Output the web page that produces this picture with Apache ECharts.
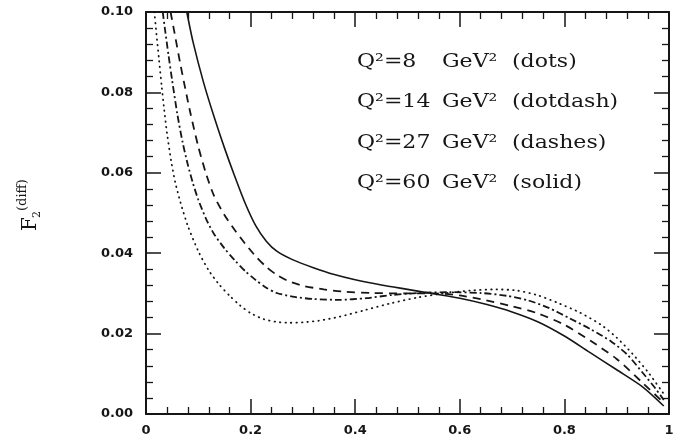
<!DOCTYPE html>
<html>
<head>
<meta charset="utf-8">
<script src="https://cdn.jsdelivr.net/npm/echarts@6/dist/echarts.min.js"></script>
<style>
  html, body { margin: 0; padding: 0; background: #ffffff; }
  #chart { width: 681px; height: 447px; }
</style>
</head>
<body>
<div id="chart"></div>
<script>
// Diffractive structure function F2 versus x for four Q^2 values
const xTickLabels = ['0', '0.2', '0.4', '0.6', '0.8', '1'];
const yTickLabels = ['0.00', '0.02', '0.04', '0.06', '0.08', '0.10'];

// Q^2 = 8 GeV^2 (dots)
const xQ8 = [0.016, 0.020, 0.025, 0.030, 0.035, 0.040, 0.048, 0.056, 0.066, 0.08, 0.10, 0.12, 0.14, 0.16, 0.18, 0.20, 0.225, 0.25, 0.275, 0.30, 0.33, 0.37, 0.42, 0.47, 0.52, 0.57, 0.62, 0.67, 0.71, 0.75, 0.79, 0.83, 0.87, 0.90, 0.93, 0.96, 0.99];
const yQ8 = [0.100, 0.0945, 0.0880, 0.0815, 0.0755, 0.0700, 0.0630, 0.0576, 0.0526, 0.0468, 0.0405, 0.0357, 0.0322, 0.0294, 0.0270, 0.0251, 0.0236, 0.0229, 0.0227, 0.0228, 0.0232, 0.0242, 0.0259, 0.0276, 0.0290, 0.0300, 0.0307, 0.0310, 0.0307, 0.0295, 0.0275, 0.0252, 0.0222, 0.0190, 0.0150, 0.0104, 0.0050];

// Q^2 = 14 GeV^2 (dotdash)
const xQ14 = [0.032, 0.037, 0.043, 0.05, 0.06, 0.07, 0.08, 0.09, 0.10, 0.115, 0.13, 0.15, 0.17, 0.19, 0.21, 0.23, 0.25, 0.28, 0.32, 0.37, 0.42, 0.47, 0.52, 0.58, 0.64, 0.69, 0.73, 0.77, 0.81, 0.85, 0.89, 0.92, 0.95, 0.975, 0.99];
const yQ14 = [0.100, 0.0950, 0.0893, 0.0830, 0.0745, 0.0676, 0.0620, 0.0573, 0.0533, 0.0485, 0.0448, 0.0412, 0.0382, 0.0355, 0.0333, 0.0314, 0.0301, 0.0292, 0.0286, 0.0284, 0.0288, 0.0296, 0.0301, 0.0303, 0.0301, 0.0294, 0.0283, 0.0264, 0.0238, 0.0211, 0.0180, 0.0148, 0.0102, 0.0062, 0.0035];

// Q^2 = 27 GeV^2 (dashes)
const xQ27 = [0.047, 0.055, 0.065, 0.075, 0.085, 0.10, 0.115, 0.13, 0.15, 0.17, 0.19, 0.21, 0.23, 0.25, 0.27, 0.30, 0.34, 0.38, 0.43, 0.50, 0.55, 0.60, 0.65, 0.70, 0.75, 0.80, 0.85, 0.90, 0.95, 0.99];
const yQ27 = [0.100, 0.0945, 0.0875, 0.0810, 0.0748, 0.0665, 0.0597, 0.0543, 0.0495, 0.0457, 0.0423, 0.0392, 0.0366, 0.0346, 0.0332, 0.0319, 0.0310, 0.0304, 0.0301, 0.0300, 0.0300, 0.0295, 0.0283, 0.0268, 0.0250, 0.0222, 0.0182, 0.0137, 0.0077, 0.0028];

// Q^2 = 60 GeV^2 (solid)
const xQ60 = [0.078, 0.09, 0.11, 0.13, 0.15, 0.17, 0.19, 0.21, 0.23, 0.25, 0.28, 0.32, 0.36, 0.40, 0.45, 0.50, 0.55, 0.60, 0.65, 0.70, 0.75, 0.80, 0.85, 0.90, 0.95, 0.99];
const yQ60 = [0.100, 0.0925, 0.0825, 0.0740, 0.0662, 0.0590, 0.0523, 0.0468, 0.0430, 0.0405, 0.0384, 0.0364, 0.0347, 0.0334, 0.0321, 0.0310, 0.0299, 0.0288, 0.0273, 0.0254, 0.0229, 0.0194, 0.0152, 0.0110, 0.0067, 0.0020];

const legendRows = [
  ['Q\u00b2=8', 'GeV\u00b2', '(dots)'],
  ['Q\u00b2=14', 'GeV\u00b2', '(dotdash)'],
  ['Q\u00b2=27', 'GeV\u00b2', '(dashes)'],
  ['Q\u00b2=60', 'GeV\u00b2', '(solid)']
];

const ink = '#161616';
const zip = (xs, ys) => xs.map((x, i) => [x, ys[i]]);

function curve(xs, ys, dash, cap) {
  return {
    type: 'line',
    data: zip(xs, ys),
    showSymbol: false,
    smooth: 0.25,
    clip: true,
    animation: false,
    lineStyle: { color: ink, width: dash === 'solid' ? 1.6 : 1.8, type: dash, cap: cap || 'butt' }
  };
}

const tickFont = { fontFamily: 'DejaVu Sans', fontWeight: 'bold', fontSize: 13, color: ink };

function xAxisDef(pos, labels) {
  return {
    type: 'value', position: pos, min: 0, max: 1, interval: 0.2,
    axisLine: { show: true, onZero: false, lineStyle: { color: ink, width: 2 } },
    axisTick: { show: true, inside: true, length: 15, lineStyle: { color: ink, width: 1.5 } },
    minorTick: { show: true, splitNumber: 5, length: 7, lineStyle: { color: ink, width: 1.3 } },
    splitLine: { show: false },
    axisLabel: labels ? Object.assign({ margin: 10, formatter: (v, i) => xTickLabels[i] }, tickFont) : { show: false }
  };
}
function yAxisDef(pos, labels) {
  return {
    type: 'value', position: pos, min: 0, max: 0.1, interval: 0.02,
    axisLine: { show: true, onZero: false, lineStyle: { color: ink, width: 2 } },
    axisTick: { show: true, inside: true, length: 15, lineStyle: { color: ink, width: 1.5 } },
    minorTick: { show: true, splitNumber: 5, length: 7, lineStyle: { color: ink, width: 1.3 } },
    splitLine: { show: false },
    axisLabel: labels ? Object.assign({ margin: 13, formatter: (v, i) => yTickLabels[i] }, tickFont) : { show: false }
  };
}

const legendFont = '19px "DejaVu Serif"';
const legendTexts = [];
legendRows.forEach((row, r) => {
  const y = 62 + r * 40.3;
  const cols = [357, 442, 512];
  row.forEach((t, c) => {
    legendTexts.push({
      type: 'text', x: cols[c], y: y, scaleX: 1.16,
      style: { text: t, font: legendFont, fill: ink, verticalAlign: 'middle', align: 'left' }
    });
  });
});

const chart = echarts.init(document.getElementById('chart'), null, { renderer: 'canvas' });
chart.setOption({
  backgroundColor: '#ffffff',
  animation: false,
  grid: { left: 146, right: 12, top: 12, bottom: 33, containLabel: false },
  xAxis: [xAxisDef('bottom', true), xAxisDef('top', false)],
  yAxis: [yAxisDef('left', true), yAxisDef('right', false)],
  series: [
    curve(xQ8, yQ8, [0.5, 5], 'round'),
    curve(xQ14, yQ14, [7, 3, 2, 3]),
    curve(xQ27, yQ27, [8, 6]),
    curve(xQ60, yQ60, 'solid')
  ],
  graphic: [
    {
      type: 'group', x: 31, y: 231, rotation: Math.PI / 2,
      children: [
        { type: 'text', x: 0, y: 0, style: { text: 'F', font: '20px "DejaVu Serif"', fill: ink, verticalAlign: 'middle' } },
        { type: 'text', x: 13, y: 6, style: { text: '2', font: '11px "DejaVu Serif"', fill: ink, verticalAlign: 'middle' } },
        { type: 'text', x: 20, y: -8, style: { text: '(diff)', font: '13px "DejaVu Serif"', fill: ink, verticalAlign: 'middle' } }
      ]
    }
  ].concat(legendTexts)
});
</script>
</body>
</html>
